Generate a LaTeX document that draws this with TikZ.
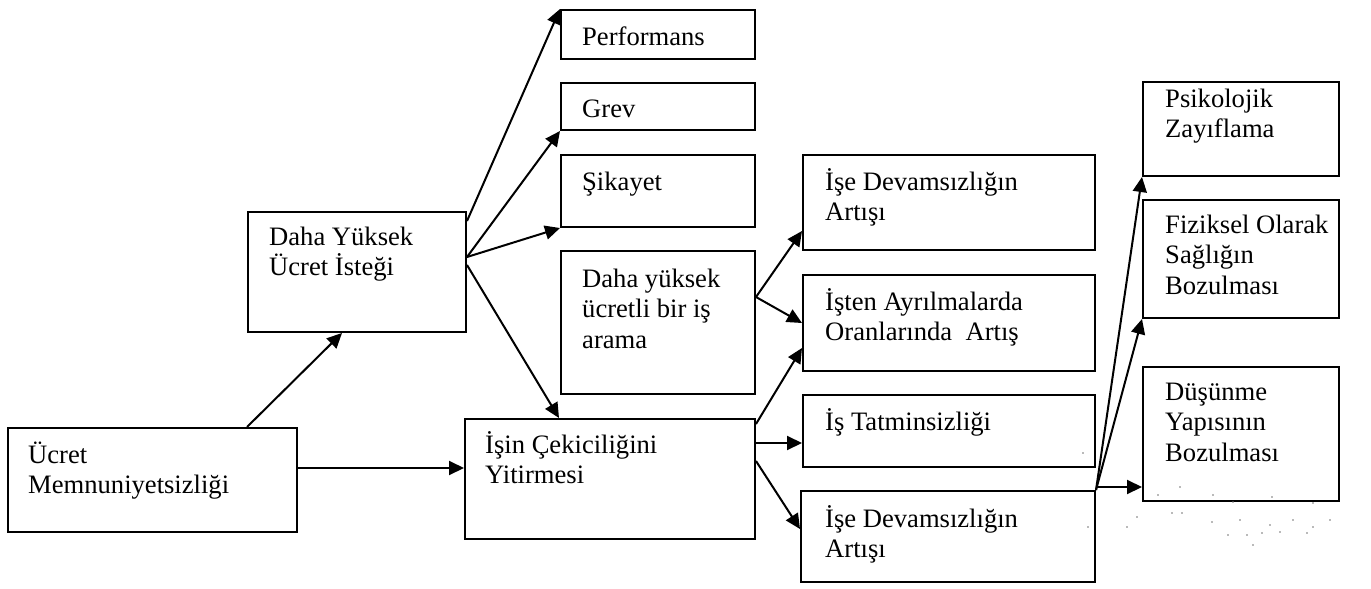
\documentclass[tikz,border=0pt]{standalone}
\usepackage{fontspec}
\setmainfont{Liberation Serif}
\usetikzlibrary{arrows.meta,calc}
% left-aligned block of lines whose baseline is the first line's baseline
\newcommand\lines[1]{\vtop{\halign{##\hfil\cr#1\crcr}}}
\tikzset{
  box/.style={draw, line width=2pt, inner sep=0pt},
  sz/.style 2 args={minimum width=#1pt, minimum height=#2pt},
  txt/.style={anchor=base west, inner sep=0pt, font=\fontsize{26.6}{30.5}\selectfont},
  arr/.style={line width=2pt, -{Triangle[length=15pt,width=14pt]}},
  speck/.style={fill=black!55, draw=none}
}
\begin{document}
\begin{tikzpicture}[x=1pt, y=-1pt]
\useasboundingbox (0,0) rectangle (1371,589);

% boxes
\node[box, sz={194}{49}]  (perf)    at (658,34.5)  {};
\node[box, sz={194}{47}]  (grev)    at (658,106.5) {};
\node[box, sz={194}{72}]  (sikayet) at (658,191)   {};
\node[box, sz={194}{143}] (arama)   at (658,322.5) {};
\node[box, sz={218}{120}] (istek)   at (357,272)   {};
\node[box, sz={289}{104}] (ucret)   at (152.5,480) {};
\node[box, sz={290}{120}] (isin)    at (610,479)   {};
\node[box, sz={292}{95}]  (dev1)    at (949,202.5) {};
\node[box, sz={292}{96}]  (isten)   at (949,323)   {};
\node[box, sz={292}{72}]  (tatmin)  at (949,431)   {};
\node[box, sz={294}{91}]  (dev2)    at (948,536.5) {};
\node[box, sz={196}{94}]  (psiko)   at (1241,129)  {};
\node[box, sz={196}{118}] (fizik)   at (1241,259)  {};
\node[box, sz={196}{134}] (dusun)   at (1241,434)  {};

% texts
\node[txt] (perf text)    at (582,45)  {Performans};
\node[txt] (grev text)    at (582,117) {Grev};
\node[txt] (sikayet text) at (582,190) {Şikayet};
\node[txt] (arama text)   at (582,287) {\lines{Daha yüksek\cr ücretli bir iş\cr arama}};
\node[txt] (istek text)   at (269,245) {\lines{Daha Yüksek\cr Ücret İsteği}};
\node[txt] (ucret text)   at (28,463)  {\lines{Ücret\cr Memnuniyetsizliği}};
\node[txt] (isin text)    at (485,453) {\lines{İşin Çekiciliğini\cr Yitirmesi}};
\node[txt] (dev1 text)    at (825,190) {\lines{İşe Devamsızlığın\cr Artışı}};
\node[txt] (isten text)   at (825,310) {\lines{İşten Ayrılmalarda\cr Oranlarında~ Artış}};
\node[txt] (tatmin text)  at (825,430) {İş Tatminsizliği};
\node[txt] (dev2 text)    at (825,527) {\lines{İşe Devamsızlığın\cr Artışı}};
\node[txt] (psiko text)   at (1165,107) {\lines{Psikolojik\cr Zayıflama}};
\node[txt] (fizik text)   at (1165,233) {\lines{Fiziksel Olarak\cr Sağlığın\cr Bozulması}};
\node[txt] (dusun text)   at (1165,400) {\lines{Düşünme\cr Yapısının\cr Bozulması}};

% connectors
\draw[arr] ($(ucret.north west)+(240,0)$) -- ($(istek.south west)+(95,0)$);
\coordinate (u1) at ($(ucret.east)+(0,-12)$);
\draw[arr] (u1) -- (u1 -| isin.west);

\draw[arr] ($(istek.north east)+(0,10)$) -- (perf.north west);
\coordinate (i1) at ($(istek.north east)+(0,46)$);
\draw[arr] (i1) -- (grev.south west);
\draw[arr] (i1) -- (sikayet.south west);
\draw[arr] ($(istek.north east)+(0,54)$) -- ($(isin.north west)+(95,0)$);

\coordinate (a1) at ($(arama.north east)+(0,47)$);
\draw[arr] (a1) -- ($(dev1.south west)+(0,-20)$);
\draw[arr] (a1) -- (isten.west);

\draw[arr] ($(isin.north east)+(0,6)$) -- ($(isten.south west)+(0,-24)$);
\coordinate (c1) at ($(isin.east)+(0,-36)$);
\draw[arr] (c1) -- (c1 -| tatmin.west);
\draw[arr] ($(isin.north east)+(0,43)$) -- ($(dev2.north west)+(0,39)$);

\draw[arr] (dev2.north east) -- (psiko.south west);
\draw[arr] (dev2.north east) -- (fizik.south west);
\coordinate (d1) at ($(dev2.north east)+(0,-3)$);
\draw[arr] (d1) -- (d1 -| dusun.west);

% scattered specks
\foreach \p in {(1083,453),(1088,527),(1158,495),(1180,487),(1213,495),(1233,502),
  (1272,497),(1313,503),(1172,513),(1182,513),(1212,522),(1240,520),(1270,525),
  (1293,520),(1313,527),(1330,520),(1137,517),(1127,527),(1228,535),(1247,535),
  (1262,533),(1280,532),(1307,533),(1253,545)}
  \fill[speck] \p circle (0.9pt);
\end{tikzpicture}
\end{document}
